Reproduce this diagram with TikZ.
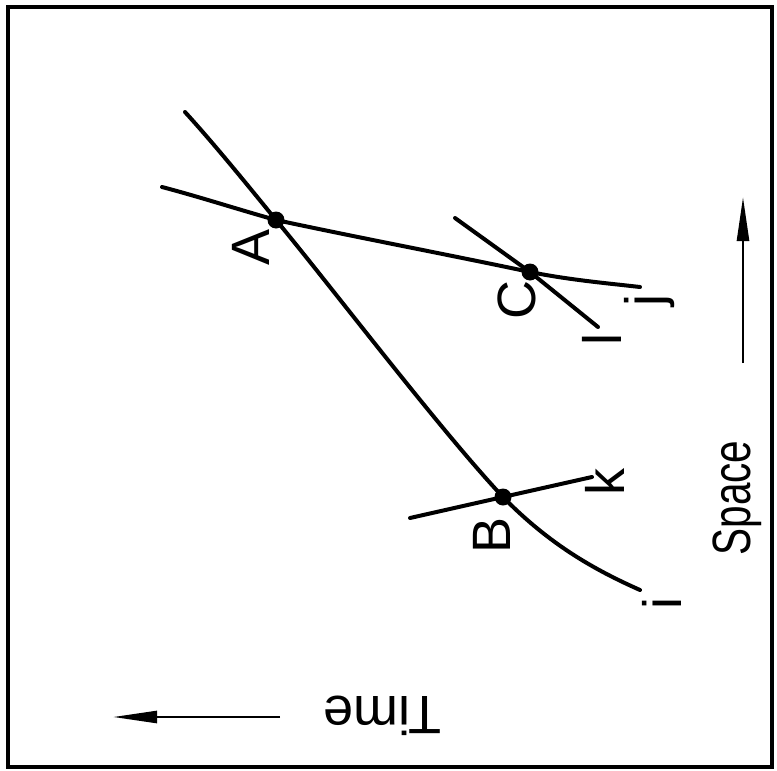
\documentclass[tikz,border=0pt]{standalone}
\usepackage{fontspec}
\setmainfont{Liberation Sans}
\usetikzlibrary{arrows.meta}
\tikzset{
  curve/.style={line width=4pt, line cap=round, line join=round},
  dotpt/.style={circle, fill=black, inner sep=0pt, minimum size=17pt},
  lbl/.style={font=\fontsize{54}{54}\selectfont, inner sep=0pt, rotate=90},
  axisarrow/.style={line width=2.6pt, -{Triangle[length=44pt,width=12pt]}},
}
\newcommand{\narrow}[1]{\scalebox{0.75}[1]{#1}}
\begin{document}
\begin{tikzpicture}[x=1pt,y=-1pt]
\useasboundingbox (0,0) rectangle (777,771);
\draw[line width=4.5pt] (8,7) rectangle (772,767);

% points
\node[dotpt] (A) at (276,220) {};
\node[dotpt] (B) at (503,497) {};
\node[dotpt] (C) at (530,272) {};

% free ends
\coordinate (iS) at (185,112);
\coordinate (iE) at (640,590);
\coordinate (jS) at (162,187);
\coordinate (jE) at (640,287);
\coordinate (lS) at (455,218);
\coordinate (lE) at (598,327);
\coordinate (kS) at (410,518);
\coordinate (kE) at (592,477);

% curve i through A and B
\draw[curve] (iS) .. controls (215,145) and (245,182) .. (A.center)
  .. controls (330,285) and (440,430) .. (B.center)
  .. controls (550,545) and (595,570) .. (iE);
% curve j through A and C
\draw[curve] (jS) .. controls (200,197) and (240,210) .. (A.center)
  .. controls (360,238) and (450,255) .. (C.center)
  .. controls (570,280) and (605,283) .. (jE);
% line l through C
\draw[curve] (lS) -- (C.center) -- (lE);
% line k through B
\draw[curve] (kS) -- (B.center) -- (kE);

% labels
\node[lbl] (lA) at (251,247) {A};
\node[lbl] (lB) at (492,535) {B};
\node[lbl] (lC) at (517,300) {C};
\node[lbl] (li) at (662,603) {i};
\node[lbl] (lj) at (650,300) {j};
\node[lbl] (lk) at (605,482) {k};
\node[lbl] (ll) at (602,339) {l};

% axes
\node[lbl] (space) at (737,498) {\narrow{Space}};
\node[lbl, rotate=90] (time) at (382,716) {Time};
\coordinate (sT) at (743,363);
\coordinate (sH) at (743,197);
\draw[axisarrow] (sT) -- (sH);
\coordinate (tT) at (280,717);
\coordinate (tH) at (113,717);
\draw[axisarrow] (tT) -- (tH);
\end{tikzpicture}
\end{document}
